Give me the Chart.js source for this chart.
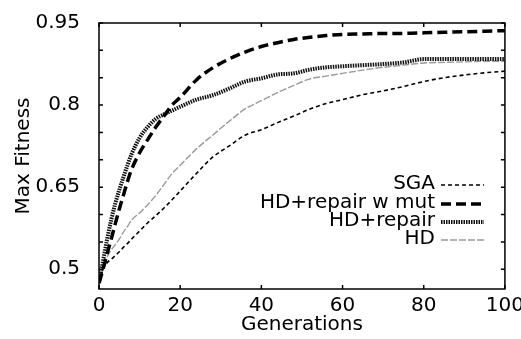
<!DOCTYPE html>
<html>
<head>
<meta charset="utf-8">
<script src="https://cdn.jsdelivr.net/npm/chart.js@4/dist/chart.umd.min.js"></script>
<style>
  body { margin: 0; background: #fff; }
  #wrap { width: 521px; height: 339px; }
</style>
</head>
<body>
<div id="wrap"><canvas id="fitChart" width="521" height="339"></canvas></div>
<script>
// generations sampled along the x axis
const generations = [0, 1, 2, 3, 4, 5, 6, 7, 8, 10, 12, 14, 16, 18, 20, 24, 28, 32, 36, 40, 44, 48, 52, 56, 60, 65, 70, 75, 80, 85, 90, 95, 100];

const sgaValues = [0.475, 0.500, 0.512, 0.518, 0.525, 0.532, 0.540, 0.547, 0.555, 0.570, 0.585, 0.598, 0.612, 0.627, 0.643, 0.675, 0.705, 0.725, 0.745, 0.755, 0.768, 0.780, 0.793, 0.803, 0.810, 0.819, 0.826, 0.834, 0.843, 0.850, 0.855, 0.859, 0.862];
const repairMutValues = [0.475, 0.500, 0.528, 0.555, 0.583, 0.610, 0.635, 0.660, 0.682, 0.713, 0.737, 0.760, 0.780, 0.800, 0.814, 0.846, 0.868, 0.884, 0.897, 0.907, 0.914, 0.920, 0.924, 0.927, 0.929, 0.930, 0.931, 0.931, 0.932, 0.933, 0.934, 0.935, 0.936];
const repairValues = [0.475, 0.515, 0.555, 0.590, 0.620, 0.645, 0.668, 0.690, 0.710, 0.740, 0.760, 0.775, 0.783, 0.790, 0.797, 0.810, 0.818, 0.830, 0.843, 0.849, 0.856, 0.858, 0.865, 0.869, 0.871, 0.873, 0.875, 0.878, 0.884, 0.884, 0.884, 0.884, 0.884];
const hdValues = [0.475, 0.500, 0.522, 0.535, 0.545, 0.555, 0.568, 0.578, 0.590, 0.603, 0.618, 0.635, 0.655, 0.675, 0.690, 0.720, 0.745, 0.770, 0.793, 0.808, 0.823, 0.836, 0.848, 0.853, 0.858, 0.864, 0.869, 0.873, 0.877, 0.878, 0.879, 0.880, 0.880];

const yTicks = [0.5, 0.55, 0.6, 0.65, 0.7, 0.75, 0.8, 0.85, 0.9, 0.95];
const yLabels = [0.5, 0.65, 0.8, 0.95];
const xTicks = [0, 20, 40, 60, 80, 100];

const FONT = 'DejaVu Sans';

function toPoints(values) {
    return values.map((v, i) => ({ x: generations[i], y: v }));
}

const seriesStyles = [
    { label: 'SGA', data: sgaValues, color: '#000', width: 1.6, dash: [4, 3] },
    { label: 'HD+repair w mut', data: repairMutValues, color: '#000', width: 3.5, dash: [10, 5] },
    { label: 'HD+repair', data: repairValues, color: '#111', width: 4, dash: [1.5, 1] },
    { label: 'HD', data: hdValues, color: '#999', width: 1.4, dash: [7, 2] }
];

// frame, inward ticks and the right-aligned legend
const framePlugin = {
    id: 'frame',
    afterDraw(chart) {
        const ctx = chart.ctx;
        const a = chart.chartArea;
        const xs = chart.scales.x;
        const ys = chart.scales.y;
        ctx.save();
        ctx.strokeStyle = '#000';
        ctx.lineWidth = 1.5;
        ctx.setLineDash([]);
        ctx.strokeRect(a.left, a.top, a.right - a.left, a.bottom - a.top);
        ctx.beginPath();
        yTicks.forEach(v => {
            const py = ys.getPixelForValue(v);
            ctx.moveTo(a.left, py); ctx.lineTo(a.left + 4, py);
            ctx.moveTo(a.right, py); ctx.lineTo(a.right - 4, py);
        });
        xTicks.forEach(v => {
            const px = xs.getPixelForValue(v);
            ctx.moveTo(px, a.bottom); ctx.lineTo(px, a.bottom - 4);
            ctx.moveTo(px, a.top); ctx.lineTo(px, a.top + 4);
        });
        ctx.stroke();

        // legend
        const rows = [184, 203, 221, 239];
        ctx.font = '20px "' + FONT + '"';
        ctx.fillStyle = '#000';
        ctx.textAlign = 'right';
        ctx.textBaseline = 'middle';
        seriesStyles.forEach((s, i) => {
            ctx.fillText(s.label, 435, rows[i]);
            ctx.beginPath();
            ctx.strokeStyle = s.color;
            ctx.lineWidth = s.width;
            ctx.setLineDash(s.dash);
            ctx.moveTo(441, rows[i] + 1);
            ctx.lineTo(484, rows[i] + 1);
            ctx.stroke();
        });
        ctx.restore();
    }
};

const ctx = document.getElementById('fitChart').getContext('2d');
new Chart(ctx, {
    type: 'line',
    data: {
        datasets: seriesStyles.map(s => ({
            label: s.label,
            data: toPoints(s.data),
            borderColor: s.color,
            borderWidth: s.width,
            borderDash: s.dash,
            pointRadius: 0,
            fill: false,
            cubicInterpolationMode: 'monotone'
        }))
    },
    options: {
        responsive: false,
        animation: false,
        devicePixelRatio: 1,
        layout: { padding: { top: 16, right: 15, left: 0, bottom: 0 } },
        plugins: {
            legend: { display: false },
            tooltip: { enabled: false }
        },
        scales: {
            x: {
                type: 'linear',
                min: 0,
                max: 100,
                afterBuildTicks: scale => { scale.ticks = xTicks.map(v => ({ value: v })); },
                afterFit: scale => { scale.height = 50; },
                grid: { display: false },
                border: { display: false },
                ticks: {
                    color: '#000',
                    font: { family: FONT, size: 20 },
                    padding: -3,
                    maxRotation: 0
                },
                title: {
                    display: true,
                    text: 'Generations',
                    color: '#000',
                    font: { family: FONT, size: 20 },
                    padding: { top: 0, bottom: 2 }
                }
            },
            y: {
                min: 0.464,
                max: 0.95,
                afterBuildTicks: scale => { scale.ticks = yTicks.map(v => ({ value: v })); },
                afterFit: scale => { scale.width = 99; },
                grid: { display: false },
                border: { display: false },
                ticks: {
                    color: '#000',
                    font: { family: FONT, size: 20 },
                    padding: 11,
                    callback: v => yLabels.some(l => Math.abs(l - v) < 1e-6) ? String(+v.toFixed(2)) : ''
                },
                title: {
                    display: true,
                    text: 'Max Fitness',
                    color: '#000',
                    font: { family: FONT, size: 20 },
                    padding: { top: 12, bottom: 0 }
                }
            }
        }
    },
    plugins: [framePlugin]
});
</script>
</body>
</html>
